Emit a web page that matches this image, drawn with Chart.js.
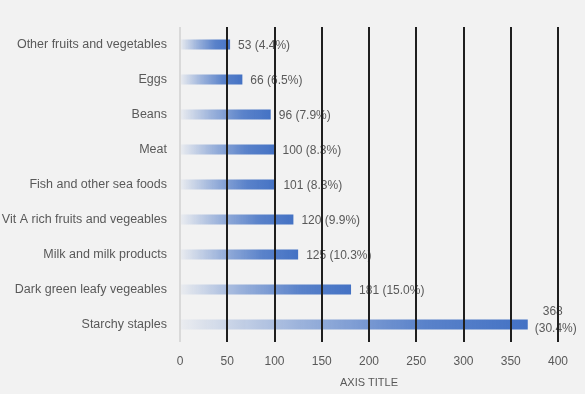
<!DOCTYPE html>
<html>
<head>
<meta charset="utf-8">
<script src="https://cdn.jsdelivr.net/npm/chart.js@4.4.1/dist/chart.umd.min.js"></script>
<style>
  html, body { margin: 0; padding: 0; background: #f2f2f2; }
  #wrap { width: 585px; height: 394px; }
</style>
</head>
<body>
<div id="wrap"><canvas id="foodChart" width="585" height="394"></canvas></div>
<script>
// food groups, top to bottom as in the picture
const categories = [
  "Other fruits and vegetables",
  "Eggs",
  "Beans",
  "Meat",
  "Fish and other sea foods",
  "Vit A rich fruits and vegeables",
  "Milk and milk products",
  "Dark green leafy vegeables",
  "Starchy staples"
];
const counts = [53, 66, 96, 100, 101, 120, 125, 181, 368];
const percents = ["4.4%", "6.5%", "7.9%", "8.3%", "8.3%", "9.9%", "10.3%", "15.0%", "30.4%"];
const xTicks = [0, 50, 100, 150, 200, 250, 300, 350, 400];

const textColor = "#595959";
const fontFamily = "'Liberation Sans', Arial, sans-serif";
const labelFont = "12px " + fontFamily;

// fade each bar from almost white at the axis to full blue at its end
function barGradient(context) {
  const chart = context.chart;
  const area = chart.chartArea;
  if (!area) return "#4472c4";
  const x = chart.scales.x;
  const end = x.getPixelForValue(counts[context.dataIndex]);
  const g = chart.ctx.createLinearGradient(area.left, 0, end, 0);
  g.addColorStop(0, "rgba(68,114,196,0.04)");
  g.addColorStop(0.35, "rgba(68,114,196,0.5)");
  g.addColorStop(0.7, "rgba(68,114,196,0.88)");
  g.addColorStop(1, "rgba(68,114,196,1)");
  return g;
}

// value labels next to the bars
const valueLabels = {
  id: "valueLabels",
  afterDatasetsDraw(chart) {
    const ctx = chart.ctx;
    const bars = chart.getDatasetMeta(0).data;
    ctx.save();
    ctx.font = labelFont;
    ctx.fillStyle = textColor;
    bars.forEach((bar, i) => {
      const txt = counts[i] + " (" + percents[i] + ")";
      if (i === bars.length - 1) {
        // last one wraps over two lines
        ctx.textAlign = "center";
        ctx.textBaseline = "middle";
        ctx.fillText(String(counts[i]), bar.x + 25, bar.y - 13);
        ctx.fillText("(" + percents[i] + ")", bar.x + 28, bar.y + 4);
      } else {
        ctx.textAlign = "left";
        ctx.textBaseline = "middle";
        ctx.fillText(txt, bar.x + 8, bar.y + 1);
      }
    });
    ctx.restore();
  }
};

// vertical grid lines drawn over the bars and labels
const topGrid = {
  id: "topGrid",
  afterDraw(chart) {
    const ctx = chart.ctx;
    const area = chart.chartArea;
    const x = chart.scales.x;
    ctx.save();
    xTicks.forEach(v => {
      const px = Math.round(x.getPixelForValue(v));
      ctx.beginPath();
      ctx.strokeStyle = v === 0 ? "#d9d9d9" : "#1f1f1f";
      ctx.lineWidth = 2;
      ctx.moveTo(px, area.top);
      ctx.lineTo(px, area.bottom);
      ctx.stroke();
    });
    ctx.restore();
  }
};

new Chart(document.getElementById("foodChart").getContext("2d"), {
  type: "bar",
  data: {
    labels: categories,
    datasets: [{
      data: counts,
      backgroundColor: barGradient,
      borderWidth: 0,
      barPercentage: 0.57,
      categoryPercentage: 0.5
    }]
  },
  options: {
    indexAxis: "y",
    responsive: false,
    animation: false,
    layout: { padding: { top: 27, right: 27, bottom: 4, left: 0 } },
    scales: {
      x: {
        min: 0,
        max: 400,
        afterBuildTicks: scale => { scale.ticks = xTicks.map(v => ({ value: v })); },
        afterFit: scale => { scale.height = 48; },
        grid: { display: false, drawTicks: false },
        border: { display: false },
        ticks: {
          padding: 12,
          color: textColor,
          font: { family: fontFamily, size: 12 }
        },
        title: {
          display: true,
          text: "AXIS TITLE",
          color: textColor,
          font: { family: fontFamily, size: 11 },
          padding: { top: 2, bottom: 0 }
        }
      },
      y: {
        afterFit: scale => { scale.width = 180; },
        grid: { display: false, drawTicks: false },
        border: { display: false },
        ticks: {
          padding: 13,
          color: textColor,
          font: { family: fontFamily, size: 12.5 }
        }
      }
    },
    plugins: {
      legend: { display: false },
      tooltip: { enabled: false }
    }
  },
  plugins: [valueLabels, topGrid]
});
</script>
</body>
</html>
